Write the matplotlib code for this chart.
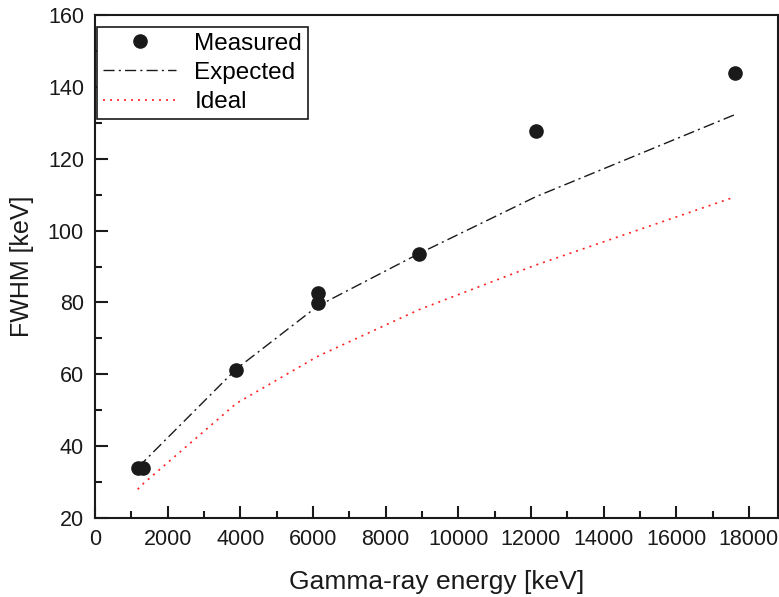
import matplotlib
matplotlib.use("Agg")
import matplotlib.pyplot as plt
from matplotlib.ticker import MultipleLocator

plt.rcParams['font.family'] = ['Liberation Sans', 'DejaVu Sans']

# measured peaks
meas_energy = [1173, 1332, 3890, 6130, 6130, 8920, 12130, 17620]
meas_fwhm = [34.0, 34.0, 61.2, 82.5, 79.8, 93.6, 127.7, 143.8]

# model curves
curve_energy = [1173, 1332, 3890, 6130, 8920, 12130, 17620]
expected_fwhm = [34.3, 35.6, 61.5, 79.0, 93.6, 109.4, 132.3]
ideal_fwhm = [28.0, 29.6, 51.9, 65.0, 78.0, 90.4, 109.4]

fig = plt.figure(figsize=(7.79, 5.97), dpi=100)
ax = fig.add_axes([0.122, 0.1323, 0.8767, 0.8426])

ax.plot(meas_energy, meas_fwhm, 'o', color='#1a1a1a', markersize=9.5, label='Measured', zorder=3)
ax.plot(curve_energy, expected_fwhm, color='#1a1a1a', lw=1.0,
        linestyle=(0, (8, 3, 1.5, 3)), label='Expected')
ax.plot(curve_energy, ideal_fwhm, color='#ff2020', lw=1.2,
        linestyle=(0, (1.2, 3)), label='Ideal')

ax.set_xlim(0, 18800)
ax.set_ylim(20, 160)
ax.xaxis.set_major_locator(MultipleLocator(2000))
ax.xaxis.set_minor_locator(MultipleLocator(1000))
ax.yaxis.set_major_locator(MultipleLocator(20))
ax.yaxis.set_minor_locator(MultipleLocator(10))
ax.tick_params(which='major', direction='in', length=9, width=1.5, labelsize=15.5,
               pad=8, colors='#1a1a1a')
ax.tick_params(which='minor', direction='in', length=5, width=1.5, colors='#1a1a1a')
for s in ax.spines.values():
    s.set_linewidth(1.5)
    s.set_color('#1a1a1a')

ax.set_xlabel('Gamma-ray energy [keV]', fontsize=19, labelpad=14, color='#1a1a1a')
ax.set_ylabel('FWHM [keV]', fontsize=18, labelpad=10, color='#1a1a1a')

leg = ax.legend(loc='upper left', bbox_to_anchor=(0.003, 0.977), fontsize=17.5,
                frameon=True, fancybox=False, edgecolor='#1a1a1a', framealpha=1,
                handlelength=3.0, handletextpad=0.75, borderpad=0.25,
                labelspacing=0.3, borderaxespad=0.0)
leg.get_frame().set_linewidth(1.2)

fig.savefig('out.png', dpi=100)
